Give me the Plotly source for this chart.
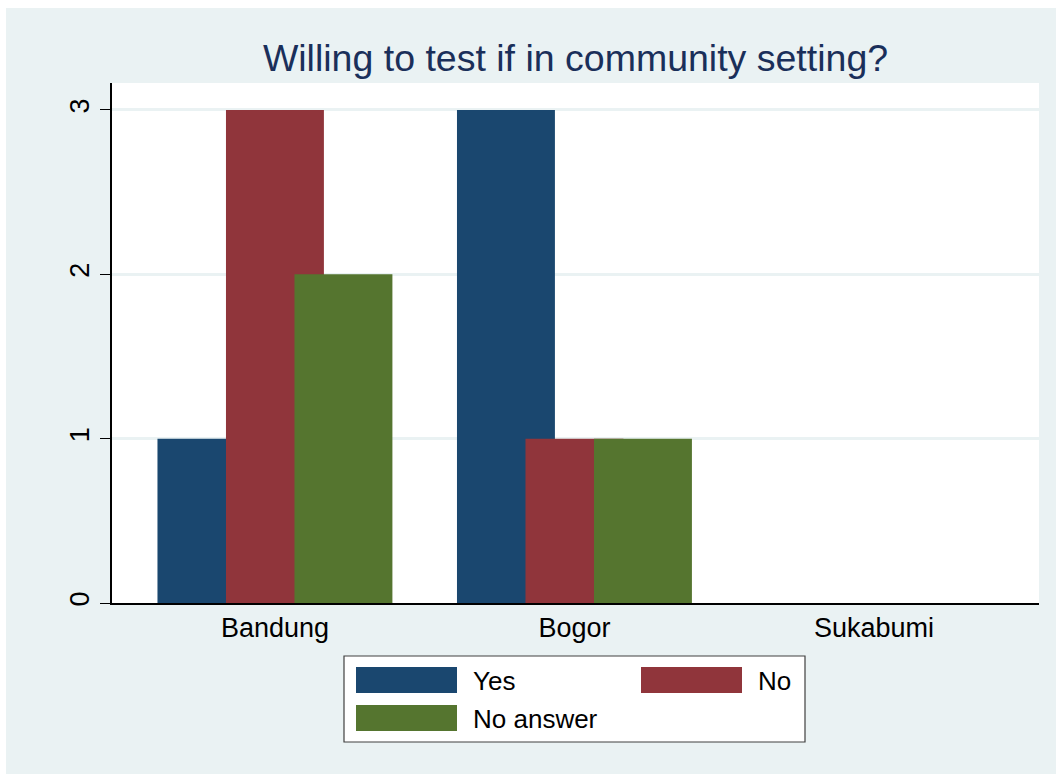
import plotly.graph_objects as go

# ---- data ----
categories = ["Bandung", "Bogor", "Sukabumi"]
series_names = ["Yes", "No", "No answer"]
yes_values = [1, 3, 0]
no_values = [3, 1, 0]
noanswer_values = [2, 1, 0]
y_ticks = [0, 1, 2, 3]

# ---- styles ----
colors = ["#1A476F", "#90353B", "#55752F"]
BG = "#EAF2F3"
FONT = "Liberation Sans, Arial, sans-serif"
OX, OY = 6, 8                     # page offset of the figure
W, H = 1056 - OX, 774 - OY
ML = 112 - OX
MT = 83 - OY
PW = 1039 - 112
PH = 603 - 83
MR = W - ML - PW
MB = H - MT - PH

bar_w = 0.327
step = 0.2287

fig = go.Figure()
for i, (name, vals) in enumerate(zip(series_names, [yes_values, no_values, noanswer_values])):
    fig.add_trace(go.Bar(
        x=categories, y=vals, name=name,
        width=bar_w, offset=-bar_w / 2 + (i - 1) * step,
        marker=dict(color=colors[i], line=dict(width=0)),
        showlegend=False,
    ))

# page pixel -> paper coordinates
def px_x(x):
    return (x - 112) / PW

def px_y(y):
    return (603 - y) / PH

shapes = []
annotations = []
# legend box
shapes.append(dict(type="rect", xref="paper", yref="paper",
                   x0=px_x(344), x1=px_x(805), y0=px_y(742), y1=px_y(656),
                   fillcolor="white", line=dict(color="#404040", width=1.2)))
legend_pos = [(356, 667), (641, 667), (356, 705)]
for (lx, ly), name, c in zip(legend_pos, series_names, colors):
    shapes.append(dict(type="rect", xref="paper", yref="paper",
                       x0=px_x(lx), x1=px_x(lx + 101), y0=px_y(ly + 26), y1=px_y(ly),
                       fillcolor=c, line=dict(width=0)))
    annotations.append(dict(xref="paper", yref="paper", x=px_x(lx + 115), y=px_y(ly + 14),
                            text=name, showarrow=False, xanchor="left", yanchor="middle",
                            font=dict(family=FONT, size=26, color="black")))

fig.update_layout(
    width=W, height=H,
    margin=dict(l=ML, r=MR, t=MT, b=MB),
    paper_bgcolor=BG, plot_bgcolor="white",
    barmode="overlay",
    title=dict(text="Willing to test if in community setting?", x=0.5, xref="paper",
               xanchor="center", y=1 - (58 - OY) / H, yref="container", yanchor="middle",
               font=dict(family=FONT, size=37.5, color="#1A2F5A")),
    xaxis=dict(range=[-0.544, 2.551], showgrid=False, showline=True, linecolor="black",
               linewidth=1.5, ticks="", tickfont=dict(family=FONT, size=27, color="black"),
               zeroline=False),
    yaxis=dict(range=[0, 3.164], tickvals=y_ticks, ticktext=[str(v) for v in y_ticks],
               showgrid=True, gridcolor=BG, gridwidth=2.5, zeroline=False,
               showline=True, linecolor="black", linewidth=1.5,
               ticks="outside", ticklen=10, tickcolor="black", tickwidth=1.2,
               tickangle=-90, tickfont=dict(family=FONT, size=27, color="black")),
    shapes=shapes, annotations=annotations,
    showlegend=False,
)

fig.write_html(
    "out.html",
    post_script=f"document.body.style.margin='{OY}px 0 0 {OX}px';"
                "document.documentElement.style.overflow='hidden';"
                "document.body.style.overflow='hidden';",
)
